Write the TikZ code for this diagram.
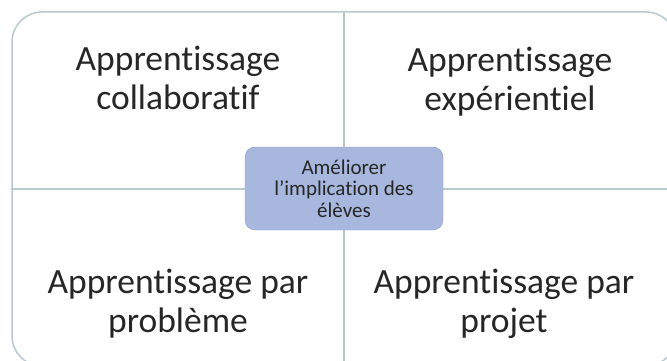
\documentclass[tikz,border=0pt]{standalone}
\usepackage{fontspec}
\setmainfont{Carlito}[Ligatures=CommonOff]
\usetikzlibrary{positioning}
\definecolor{framegray}{HTML}{B7C9CD}
\definecolor{hubfill}{HTML}{A8B7DD}
\definecolor{hubline}{HTML}{8E9FC9}
\definecolor{txtgray}{HTML}{262626}

\begin{document}
\begin{tikzpicture}[x=1pt, y=-1pt,
  quad/.style={align=center, font=\fontsize{35.5}{39}\selectfont, text=txtgray},
  hub/.style={rounded corners=10pt, draw=hubline, fill=hubfill, align=center,
              font=\fontsize{21}{21.5}\selectfont, text=txtgray,
              minimum width=198pt, minimum height=83pt, inner sep=2pt},
  divider/.style={draw=framegray, line width=1.5pt},
]
\useasboundingbox (0,0) rectangle (667,361);
\clip (0,0) rectangle (667,361);

% frame and the two dividers
\node[divider, rounded corners=30pt, minimum width=664pt, minimum height=354pt,
      inner sep=0pt] (frame) at (344,189) {};
\draw[divider] (frame.north) -- (frame.south);
\draw[divider] (frame.west) -- (frame.east);

% the four quadrants
\node[quad] (collab) at (178,78)    {Apprentissage\\collaboratif};
\node[quad] (exper)  at (510,81.5)  {Apprentissage\\expérientiel};
\node[quad] (probl)  at (178,303.5) {Apprentissage par\\problème};
\node[quad] (projet) at (504,303.5) {Apprentissage par\\projet};

% hub
\node[hub] (hub) at (344,188.5) {Améliorer\\l’implication des\\élèves};

\end{tikzpicture}
\end{document}
